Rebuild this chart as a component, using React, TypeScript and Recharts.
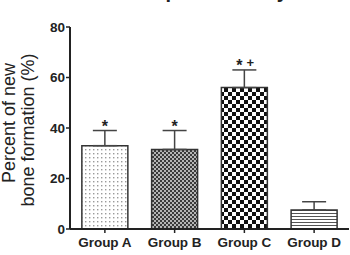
import React from "react";
import {
  Bar,
  BarChart,
  Cell,
  ErrorBar,
  ReferenceDot,
  XAxis,
  YAxis,
} from "recharts";

// group means, upper SEM and significance marks
const groups = ["Group A", "Group B", "Group C", "Group D"];
const means = [33, 31.5, 56, 7.5];
const sems = [6, 7.5, 7, 3.3];
const marks = ["*", "*", "*+", ""];
const yTicks = [0, 20, 40, 60, 80];

const FONT = "'Liberation Sans', Arial, sans-serif";
const INK = "#222";

const rows = groups.map((g, i) => ({
  group: g,
  mean: means[i],
  err: [0, sems[i]],
}));

const fills = ["url(#pat-dots)", "url(#pat-fine)", "url(#pat-check)", "url(#pat-lines)"];

// "*" in bold, a following "+" drawn smaller and raised to sit level with it
function MarkLabel(props: any) {
  const { viewBox, value } = props;
  const cx = viewBox.x + (viewBox.width || 0) / 2;
  const star = value.startsWith("*");
  const plus = value.endsWith("+");
  return (
    <g fontFamily={FONT} fontWeight="bold" fill={INK}>
      {star && (
        <text x={plus ? cx - 5 : cx} y={viewBox.y + 1} textAnchor="middle" fontSize={16}>
          *
        </text>
      )}
      {plus && (
        <text x={cx + 6} y={viewBox.y - 3} textAnchor="middle" fontSize={13}>
          +
        </text>
      )}
    </g>
  );
}

export default function App() {
  return (
    <div style={{ position: "absolute", left: 0, top: 0, width: 350, height: 255, background: "#fff" }}>
      <BarChart
        width={350}
        height={255}
        data={rows}
        margin={{ top: 27, right: 1, bottom: 0, left: 0 }}
        barCategoryGap="17%"
      >
        <defs>
          <pattern id="pat-dots" width="4" height="4" patternUnits="userSpaceOnUse">
            <rect width="4" height="4" fill="#fff" />
            <rect x="1" y="1" width="1.4" height="1.4" fill="#9a9a9a" />
          </pattern>
          <pattern id="pat-fine" width="4" height="4" patternUnits="userSpaceOnUse">
            <rect width="4" height="4" fill="#b5b5b5" />
            <rect x="0" y="0" width="2" height="2" fill="#3a3a3a" />
            <rect x="2" y="2" width="2" height="2" fill="#3a3a3a" />
          </pattern>
          <pattern id="pat-check" width="8" height="8" patternUnits="userSpaceOnUse">
            <rect width="8" height="8" fill="#fff" />
            <rect x="0" y="0" width="4" height="4" fill="#111" />
            <rect x="4" y="4" width="4" height="4" fill="#111" />
          </pattern>
          <pattern id="pat-lines" width="4" height="3" patternUnits="userSpaceOnUse">
            <rect width="4" height="3" fill="#fff" />
            <rect x="0" y="0" width="4" height="1" fill="#555" />
          </pattern>
        </defs>

        {/* title sits above the top edge; only its descenders reach into view */}
        <text
          x={-30}
          y={-2}
          fontFamily={FONT}
          fontWeight="bold"
          fontSize={20}
          fill={INK}
        >
          Bone formation in repaired cavity
        </text>

        <text
          transform="translate(15,123) rotate(-90)"
          textAnchor="middle"
          fontFamily={FONT}
          fontSize={18}
          fill={INK}
        >
          Percent of new
        </text>
        <text
          transform="translate(34,130) rotate(-90)"
          textAnchor="middle"
          fontFamily={FONT}
          fontSize={18}
          fill={INK}
        >
          bone formation (%)
        </text>

        <XAxis
          dataKey="group"
          height={26}
          tickSize={4}
          tickMargin={4}
          axisLine={{ stroke: INK, strokeWidth: 2 }}
          tickLine={{ stroke: INK, strokeWidth: 1.5 }}
          tick={{ fill: INK, fontSize: 13.5, fontWeight: "bold", fontFamily: FONT }}
          interval={0}
        />
        <YAxis
          width={70}
          domain={[0, 80]}
          ticks={yTicks}
          tickSize={4}
          tickMargin={1}
          axisLine={{ stroke: INK, strokeWidth: 2 }}
          tickLine={{ stroke: INK, strokeWidth: 1.5 }}
          tick={{ fill: INK, fontSize: 13.5, fontWeight: "bold", fontFamily: FONT }}
          allowDataOverflow
        />
        <Bar dataKey="mean" stroke="#333" strokeWidth={1.5} isAnimationActive={false}>
          {rows.map((r, i) => (
            <Cell key={r.group} fill={fills[i]} />
          ))}
          <ErrorBar dataKey="err" width={12} stroke="#444" strokeWidth={1.5} direction="y" />
        </Bar>
        {groups.map((g, i) =>
          marks[i] ? (
            <ReferenceDot
              key={g}
              x={g}
              y={means[i] + sems[i]}
              r={0}
              stroke="none"
              fill="none"
              label={<MarkLabel value={marks[i]} />}
            />
          ) : null
        )}
      </BarChart>
    </div>
  );
}
